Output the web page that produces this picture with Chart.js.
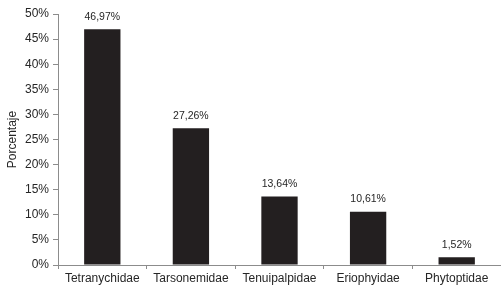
<!DOCTYPE html>
<html>
<head>
<meta charset="utf-8">
<script src="https://cdn.jsdelivr.net/npm/chart.js@4/dist/chart.umd.min.js"></script>
<style>
  html, body { margin: 0; padding: 0; background: #fff; }
  #wrap { width: 501px; height: 289px; }
</style>
</head>
<body>
<div id="wrap"><canvas id="chart"></canvas></div>
<script>
const familias = ["Tetranychidae", "Tarsonemidae", "Tenuipalpidae", "Eriophyidae", "Phytoptidae"]
const porcentajes = [46.97, 27.26, 13.64, 10.61, 1.52]
const yTicks = [0, 5, 10, 15, 20, 25, 30, 35, 40, 45, 50]

const axisGray = "#8c8c8c"
const textColor = "#262626"

const fmt = v => v.toFixed(2).replace(".", ",") + "%"

// draws the value above each bar
const barLabels = {
    id: "barLabels",
    afterDatasetsDraw(chart) {
        const ctx = chart.ctx
        const meta = chart.getDatasetMeta(0)
        ctx.save()
        ctx.font = "10.5px 'Liberation Sans', Arial, sans-serif"
        ctx.fillStyle = textColor
        ctx.textAlign = "center"
        ctx.textBaseline = "bottom"
        meta.data.forEach((bar, i) => {
            ctx.fillText(fmt(porcentajes[i]), bar.x, bar.y - 7)
        })
        ctx.restore()
    }
}

const ctx = document.querySelector("#chart")
const chart = new Chart(ctx, {
    type: "bar",
    data: {
        labels: familias,
        datasets: [{
            data: porcentajes,
            backgroundColor: "#231f20",
            borderWidth: 0,
            barPercentage: 0.41,
            categoryPercentage: 1
        }]
    },
    options: {
        responsive: true,
        maintainAspectRatio: false,
        animation: false,
        layout: { padding: { top: 14, right: 0, left: 0, bottom: 0 } },
        plugins: {
            legend: { display: false },
            tooltip: { enabled: false }
        },
        scales: {
            x: {
                grid: {
                    display: true,
                    drawOnChartArea: false,
                    offset: true,
                    color: axisGray,
                    tickLength: 4
                },
                border: { color: axisGray },
                ticks: {
                    color: textColor,
                    font: { family: "'Liberation Sans', Arial, sans-serif", size: 12 },
                    maxRotation: 0,
                    padding: 2
                },
                afterFit(scale) { scale.height = 24 }
            },
            y: {
                min: 0,
                max: 50,
                afterBuildTicks(scale) {
                    scale.ticks = yTicks.map(v => ({ value: v }))
                },
                grid: {
                    display: true,
                    drawOnChartArea: false,
                    color: axisGray,
                    tickLength: 5
                },
                border: { color: axisGray },
                ticks: {
                    color: textColor,
                    font: { family: "'Liberation Sans', Arial, sans-serif", size: 12 },
                    padding: 4,
                    callback: v => v + "%"
                },
                title: {
                    display: true,
                    text: "Porcentaje",
                    color: textColor,
                    font: { family: "'Liberation Sans', Arial, sans-serif", size: 12 },
                    padding: { top: 5, bottom: 0 }
                },
                afterFit(scale) { scale.width = 58 }
            }
        }
    },
    plugins: [barLabels]
})
</script>
</body>
</html>
